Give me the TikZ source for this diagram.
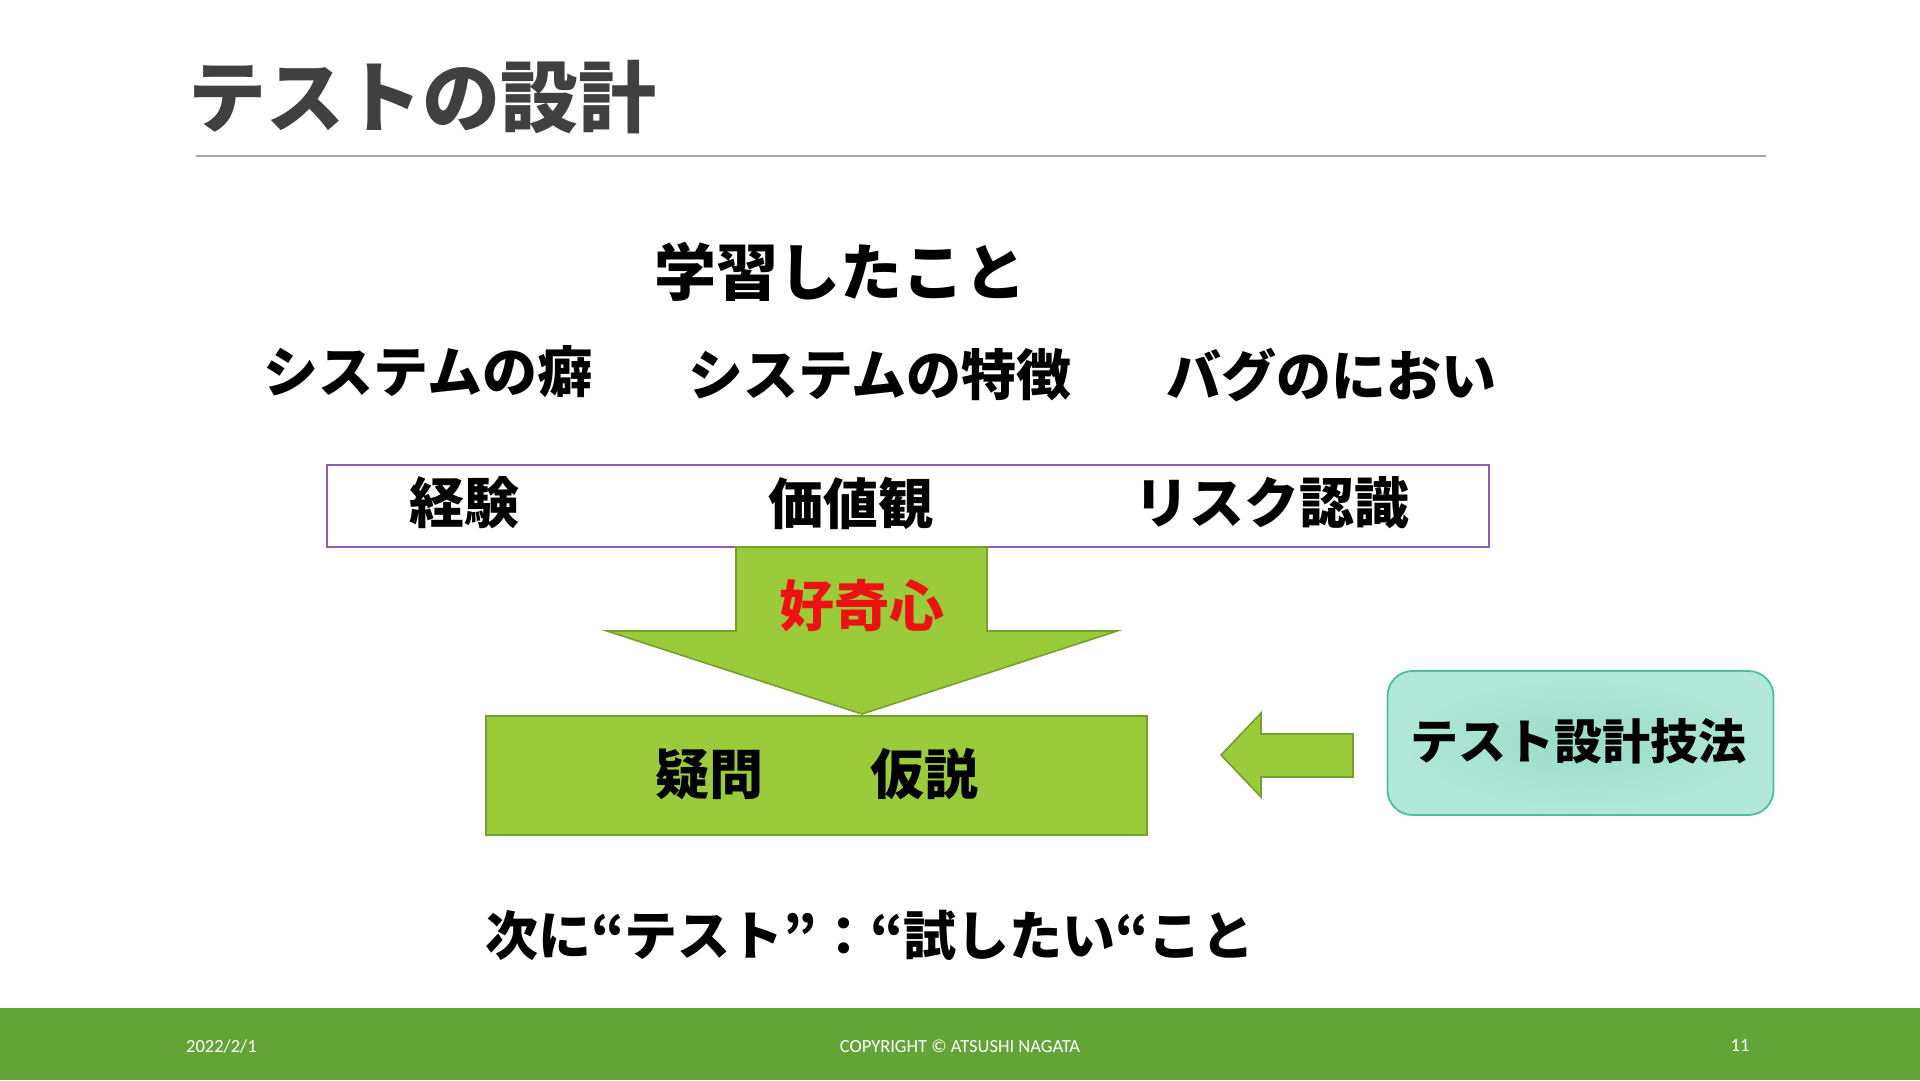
\documentclass[tikz,border=0pt]{standalone}
\usepackage{fontspec}
\setmainfont{Noto Sans CJK JP}
\newfontfamily\foot{Carlito}
\usetikzlibrary{shapes.misc}
\definecolor{titlegray}{HTML}{404040}
\definecolor{rulegray}{HTML}{A6A6A6}
\definecolor{boxpurple}{HTML}{8E5FB8}
\definecolor{leaf}{HTML}{9ACB3A}
\definecolor{leafdark}{HTML}{76A02E}
\definecolor{footgreen}{HTML}{64A338}
\definecolor{tealin}{HTML}{9CDBC9}
\definecolor{tealout}{HTML}{B2E8D9}
\definecolor{tealedge}{HTML}{4CBF9E}
\definecolor{curred}{HTML}{EE1111}
\tikzset{
  txt/.style={inner sep=0pt, anchor=center, font=\bfseries\fontsize{#1}{#1}\selectfont},
  blockarrow/.style={fill=leaf, draw=leafdark, line width=1.6pt, line join=miter},
  foottxt/.style={inner sep=0pt, text=white, font=\foot\fontsize{18.5}{18.5}\selectfont}
}
\begin{document}
\begin{tikzpicture}[x=1pt,y=-1pt]
\useasboundingbox (0,0) rectangle (1920,1080);
\fill[white] (0,0) rectangle (1920,1080);
% title
\node[txt=78, text=titlegray, anchor=west] (title) at (188,97) {テストの設計};
\draw[rulegray, line width=2pt] (196,155.5) -- (1766,155.5);
% learned
\node[txt=62] (learn) at (840,272) {学習したこと};
\node[txt=55] (kuse) at (428,372) {システムの癖};
\node[txt=55] (tokuchou) at (880,375) {システムの特徴};
\node[txt=55] (bug) at (1331,375) {バグのにおい};
% purple box
\draw[boxpurple, line width=1.6pt] (327,465) rectangle (1489,547);
\node[txt=55] (keiken) at (464,503) {経験};
\node[txt=55] (kachi) at (851,503) {価値観};
\node[txt=55] (risk) at (1272,503) {リスク認識};
% down arrow
\draw[blockarrow] (736,547) -- (987,547) -- (987,631) -- (1117,631) -- (862,714) -- (607,631) -- (736,631) -- cycle;
\node[txt=55, text=curred] (kouki) at (862,606) {好奇心};
% green rect
\draw[fill=leaf, draw=leafdark, line width=1.6pt] (486,716) rectangle (1147,835);
\node[txt=54] (gimon) at (709,774) {疑問};
\node[txt=54] (kasetsu) at (924,774) {仮説};
% left arrow
\draw[blockarrow] (1221,755) -- (1261,713) -- (1261,734) -- (1353,734) -- (1353,777) -- (1261,777) -- (1261,797) -- cycle;
% technique box
\node[draw=tealedge, line width=1.8pt, rounded corners=25pt, inner color=tealin, outer color=tealout,
      minimum width=386pt, minimum height=144pt, inner sep=0pt] (tech) at (1580.5,743) {};
\node[txt=48] (techtxt) at (1578,741) {テスト設計技法};
% next line
\node[txt=53] (next) at (870,935) {次に“テスト”：“試したい“こと};
% footer
\fill[footgreen] (0,1008) rectangle (1920,1080);
\node[foottxt, anchor=west] (date) at (186,1046) {2022/2/1};
\node[foottxt] (copy) at (960,1046) {COPYRIGHT © ATSUSHI NAGATA};
\node[foottxt] (page) at (1740,1046) {11};
\end{tikzpicture}
\end{document}
